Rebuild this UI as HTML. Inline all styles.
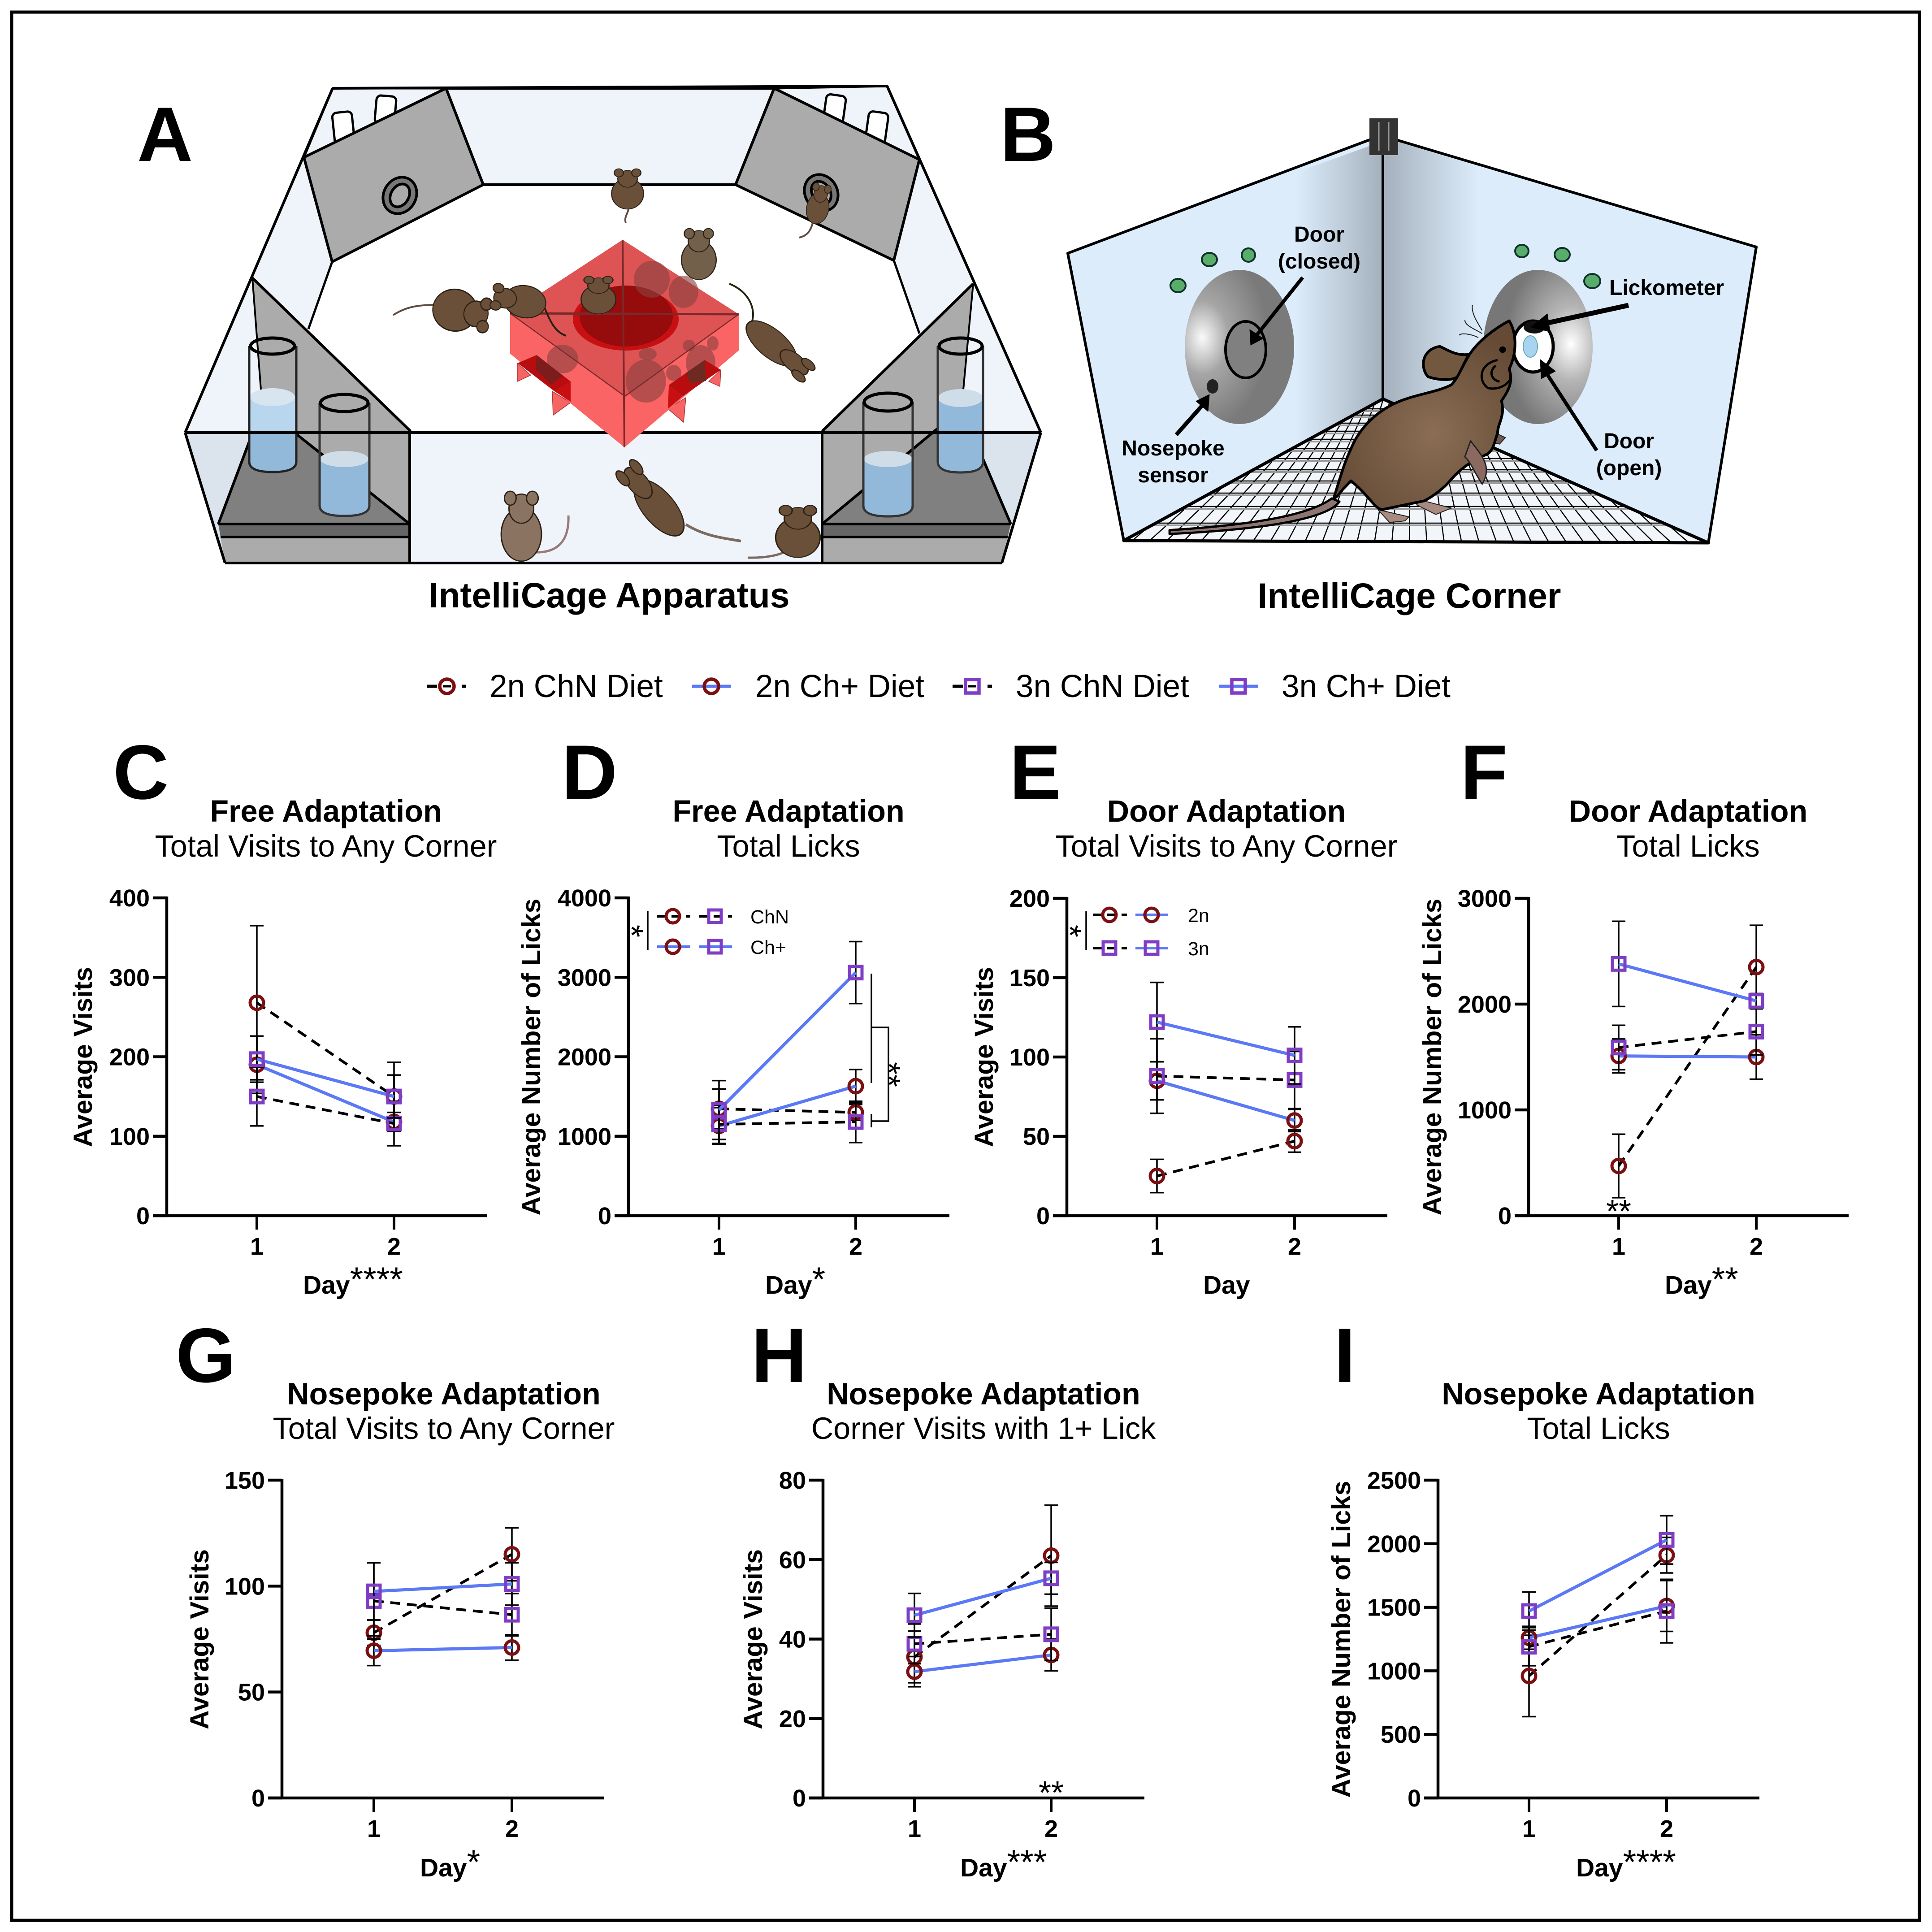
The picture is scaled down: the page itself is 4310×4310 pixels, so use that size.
<!DOCTYPE html>
<html lang="en">
<head>
<meta charset="utf-8">
<title>IntelliCage adaptation figure</title>
<style>
html,body{margin:0;padding:0;background:#fff;width:4310px;height:4310px;overflow:hidden}
svg{display:block}
text{font-family:"Liberation Sans",sans-serif;fill:#000}
.b{font-weight:bold}
.title{font-weight:bold;font-size:68.3px;text-anchor:middle}
.sub{font-size:68.4px;text-anchor:middle}
.letter{font-weight:bold;font-size:172px}
.ytitle{font-weight:bold;font-size:58.8px;text-anchor:middle}
.xtitle{font-weight:bold;font-size:57px}
.xtitle tspan{font-weight:normal;font-size:76px}
.leg{font-size:71px}
.ins{font-size:43px}
.lab{font-weight:bold;font-size:48px;text-anchor:middle}
.rat *{vector-effect:non-scaling-stroke}
</style>
</head>
<body>
<svg id="figure" xmlns="http://www.w3.org/2000/svg" width="4310" height="4310" viewBox="0 0 4310 4310">
<defs>
<linearGradient id="shadeL" x1="0" x2="1" y1="0" y2="0"><stop offset="0" stop-color="#a9b5c1" stop-opacity="0"/><stop offset="1" stop-color="#a3afbb"/></linearGradient>
<linearGradient id="shadeR" x1="0" x2="1" y1="0" y2="0"><stop offset="0" stop-color="#a3afbb"/><stop offset="1" stop-color="#a9b5c1" stop-opacity="0"/></linearGradient>
<radialGradient id="discL" cx="0.16" cy="0.44" r="0.6"><stop offset="0" stop-color="#fafafa"/><stop offset="0.4" stop-color="#a5a5a5"/><stop offset="1" stop-color="#7a7a7a"/></radialGradient>
<radialGradient id="discR" cx="0.8" cy="0.48" r="0.6"><stop offset="0" stop-color="#ffffff"/><stop offset="0.4" stop-color="#b5b5b5"/><stop offset="1" stop-color="#777777"/></radialGradient>
<radialGradient id="ratFill" cx="0.55" cy="0.6" r="0.6"><stop offset="0" stop-color="#8a6d54"/><stop offset="1" stop-color="#654b36"/></radialGradient>
<clipPath id="floorClip"><polygon points="2507,1206 3085,890 3811,1211"/></clipPath>
<g id="mouse-shape" stroke="#2b2015">
<ellipse cx="0" cy="0" rx="31" ry="46" stroke-width="2"/>
<ellipse cx="0" cy="-44" rx="19" ry="25" stroke-width="2"/>
<ellipse cx="-17" cy="-62" rx="9" ry="12" stroke-width="2"/>
<ellipse cx="17" cy="-62" rx="9" ry="12" stroke-width="2"/>
</g>
</defs>

<rect width="4310" height="4310" fill="#ffffff"/>
<rect x="26" y="27" width="4256" height="4257" fill="none" stroke="#000" stroke-width="7"/>

<!-- PANEL A -->
<g stroke-linejoin="round">
<polygon points="995,197 1727,197 1641,412 1078,412" fill="#eef4fa" stroke="#000" stroke-width="6"/>
<polygon points="742,197 995,197 678,351" fill="#eef4fa" stroke="#000" stroke-width="5"/>
<polygon points="1727,197 1979,192 2051,356" fill="#eef4fa" stroke="#000" stroke-width="5"/>
<g fill="#fff" stroke="#000" stroke-width="5">
<rect x="744" y="250" width="44" height="72" rx="10" transform="rotate(-6 766 286)"/>
<rect x="838" y="214" width="44" height="62" rx="10" transform="rotate(5 860 245)"/>
<rect x="1840" y="212" width="44" height="62" rx="10" transform="rotate(8 1862 243)"/>
<rect x="1934" y="250" width="44" height="72" rx="10" transform="rotate(8 1956 286)"/>
</g>
<polygon points="678,351 741,584 688,734 563,620" fill="#eef4fa"/>
<polygon points="2051,356 1994,581 2051,744 2171,633" fill="#eef4fa"/>
<polygon points="563,620 413,965 585,965 585,908" fill="#eef4fa"/>
<polygon points="2171,633 2322,965 2145,965 2145,912" fill="#eef4fa"/>
<polygon points="995,197 1078,412 741,584 678,351" fill="#ababab" stroke="#000" stroke-width="6"/>
<polygon points="1727,197 1641,412 1994,581 2051,356" fill="#ababab" stroke="#000" stroke-width="6"/>
<g transform="rotate(30 892 436)"><ellipse cx="892" cy="436" rx="36" ry="42" fill="#777" stroke="#000" stroke-width="6"/><ellipse cx="892" cy="436" rx="20" ry="27" fill="#ababab" stroke="#000" stroke-width="6"/></g>
<g transform="rotate(-30 1832 430)"><ellipse cx="1832" cy="430" rx="36" ry="42" fill="#777" stroke="#000" stroke-width="6"/><ellipse cx="1832" cy="430" rx="20" ry="27" fill="#ababab" stroke="#000" stroke-width="6"/></g>
<polyline points="742,197 413,965" fill="none" stroke="#000" stroke-width="6"/>
<polyline points="1979,192 2322,965" fill="none" stroke="#000" stroke-width="6"/>
<line x1="741" y1="584" x2="688" y2="734" stroke="#000" stroke-width="5"/>
<line x1="1994" y1="581" x2="2051" y2="744" stroke="#000" stroke-width="5"/>

<polygon points="914,965 1834,965 1834,1256 914,1256" fill="#eef4fa"/>
<polygon points="413,965 914,965 914,1256 502,1256" fill="#dbe3ec"/>
<polygon points="1834,965 2322,965 2235,1256 1834,1256" fill="#dbe3ec"/>

<polygon points="563,620 916,960 916,1169 585,908" fill="#ababab"/>
<polygon points="585,908 914,1169 487,1169" fill="#808080"/>
<polygon points="487,1169 914,1169 914,1198 492,1198" fill="#666"/>
<polygon points="492,1198 914,1198 914,1256 502,1256" fill="#ababab"/>
<polygon points="2171,633 1834,960 1834,1169 2145,912" fill="#ababab"/>
<polygon points="2145,912 1834,1169 2255,1169" fill="#808080"/>
<polygon points="1834,1169 2255,1169 2248,1198 1834,1198" fill="#666"/>
<polygon points="1834,1198 2248,1198 2235,1256 1834,1256" fill="#ababab"/>
<g fill="none" stroke="#000" stroke-width="6">
<line x1="563" y1="620" x2="916" y2="962"/>
<line x1="2171" y1="633" x2="1834" y2="962"/>
<line x1="563" y1="620" x2="585" y2="908" stroke-width="4"/>
<line x1="2171" y1="633" x2="2145" y2="912" stroke-width="4"/>
<line x1="585" y1="908" x2="914" y2="1169"/>
<line x1="585" y1="908" x2="487" y2="1169"/>
<line x1="2145" y1="912" x2="1834" y2="1169"/>
<line x1="2145" y1="912" x2="2255" y2="1169"/>
<line x1="487" y1="1169" x2="914" y2="1169"/>
<line x1="492" y1="1198" x2="914" y2="1198"/>
<line x1="1834" y1="1169" x2="2255" y2="1169"/>
<line x1="1834" y1="1198" x2="2248" y2="1198"/>
</g>
<g>
<rect x="556" y="886" width="105" height="79" fill="#b8d6ee"/>
<path d="M556,965 V1030 Q556,1053 608,1053 Q661,1053 661,1030 V965 Z" fill="#92b8da"/>
<ellipse cx="608" cy="886" rx="50" ry="20" fill="#d8e4ee"/>
<path d="M556,772 V1030 Q556,1053 608,1053 Q661,1053 661,1030 V772" fill="none" stroke="#222" stroke-width="5"/>
<ellipse cx="608" cy="772" rx="49" ry="18" fill="none" stroke="#000" stroke-width="7"/>
<path d="M713,1024 V1128 Q713,1151 768,1151 Q824,1151 824,1128 V1024 Z" fill="#92b8da"/>
<ellipse cx="768" cy="1024" rx="54" ry="18" fill="#cfdde8"/>
<path d="M713,899 V1128 Q713,1151 768,1151 Q824,1151 824,1128 V899" fill="none" stroke="#333" stroke-width="5"/>
<ellipse cx="768" cy="899" rx="53" ry="19" fill="none" stroke="#000" stroke-width="7"/>
<path d="M2092,888 V1030 Q2092,1054 2143,1054 Q2193,1054 2193,1030 V888 Z" fill="#92b8da"/>
<ellipse cx="2143" cy="888" rx="50" ry="20" fill="#cfdde8"/>
<path d="M2092,772 V1030 Q2092,1054 2143,1054 Q2193,1054 2193,1030 V772" fill="none" stroke="#333" stroke-width="5"/>
<ellipse cx="2143" cy="772" rx="48" ry="18" fill="none" stroke="#000" stroke-width="7"/>
<path d="M1926,1024 V1128 Q1926,1152 1981,1152 Q2036,1152 2036,1128 V1024 Z" fill="#92b8da"/>
<ellipse cx="1981" cy="1024" rx="54" ry="18" fill="#cfdde8"/>
<path d="M1926,897 V1128 Q1926,1152 1981,1152 Q2036,1152 2036,1128 V897" fill="none" stroke="#333" stroke-width="5"/>
<ellipse cx="1981" cy="897" rx="53" ry="20" fill="none" stroke="#000" stroke-width="7"/>
</g>
<g fill="none" stroke="#000" stroke-width="6">
<line x1="413" y1="965" x2="2322" y2="965"/>
<line x1="413" y1="965" x2="502" y2="1256"/>
<line x1="2322" y1="965" x2="2235" y2="1256"/>
<line x1="502" y1="1256" x2="2235" y2="1256"/>
<line x1="914" y1="965" x2="914" y2="1256"/>
<line x1="1834" y1="965" x2="1834" y2="1256"/>
</g>
<line x1="742" y1="197" x2="1979" y2="192" stroke="#000" stroke-width="6"/>

<g>
<g fill="#f76464" stroke="#a33" stroke-width="1.5">
<polygon points="1154,810 1154,851 1184,837"/>
<polygon points="1232,873 1234,926 1273,898"/>
<polygon points="1490,912 1530,887 1525,942"/>
<polygon points="1581,851 1608,825 1606,862"/>
</g>
<polygon points="1389,535 1648,701 1648,782 1393,998 1138,789 1138,699" fill="#fb6464"/>
<polygon points="1389,535 1648,701 1394,884 1138,699" fill="#de5353"/>
<ellipse cx="1396" cy="712" rx="118" ry="70" fill="#c80f12"/>
<ellipse cx="1397" cy="705" rx="104" ry="68" fill="#960b0b"/>
<g fill="#8a4040" fill-opacity=".62">
<ellipse cx="1454" cy="623" rx="40" ry="41"/>
<ellipse cx="1525" cy="651" rx="33" ry="36"/>
<ellipse cx="1255" cy="801" rx="35" ry="32"/>
<ellipse cx="1441" cy="850" rx="45" ry="48"/>
<ellipse cx="1445" cy="790" rx="20" ry="14"/>
<ellipse cx="1563" cy="809" rx="33" ry="39"/>
<ellipse cx="1537" cy="771" rx="14" ry="13"/>
<ellipse cx="1590" cy="766" rx="13" ry="16"/>
<ellipse cx="1503" cy="832" rx="17" ry="18"/>
</g>
<g>
<polygon points="1155,810 1197,792 1273,851 1237,873" fill="#b80c0f"/>
<polygon points="1197,792 1256,838 1230,858 1195,825" fill="#7d1c1c"/>
<polygon points="1237,873 1273,851 1273,896" fill="#c80f12"/>
<polygon points="1492,859 1572,803 1608,825 1523,884" fill="#b80c0f"/>
<polygon points="1530,832 1572,803 1575,850 1540,855" fill="#6e2a22"/>
<polygon points="1492,859 1523,884 1490,912" fill="#c80f12"/>
</g>
<g stroke="#7a2a2a" fill="none">
<line x1="1389" y1="535" x2="1393" y2="998" stroke-width="4"/>
<line x1="1138" y1="699" x2="1648" y2="701" stroke-width="5"/>
<line x1="1394" y1="884" x2="1648" y2="701" stroke-width="2.5"/>
<line x1="1394" y1="884" x2="1138" y2="699" stroke-width="2.5"/>
</g>
</g>
<g fill="none" stroke="#5e4c42" stroke-width="4">
<path d="M1400,450 C1410,470 1390,480 1396,497"/>
<path d="M1815,490 C1810,510 1805,525 1783,530"/>
<path d="M975,680 C930,680 905,685 877,703"/>
<path d="M1212,680 C1225,710 1235,740 1263,749" stroke="#221"/>
<path d="M1675,725 C1690,690 1670,650 1627,633" stroke="#221"/>
<path d="M1190,1232 C1250,1235 1270,1200 1268,1150" stroke="#9a7a78" stroke-width="5"/>
<path d="M1530,1170 C1570,1195 1610,1200 1653,1207" stroke="#7a6a60" stroke-width="6"/>
<path d="M1760,1222 C1750,1240 1700,1245 1668,1244" stroke="#7a6a60" stroke-width="5"/>
</g>
<g fill="#6a4f39">
<use href="#mouse-shape" transform="translate(1400,432) scale(1.15,.75)"/>
<use href="#mouse-shape" transform="translate(1824,465) rotate(12) scale(.8,.75)"/>
<use href="#mouse-shape" fill="#73604a" transform="translate(1559,580) scale(1.25,.95)"/>
<use href="#mouse-shape" transform="translate(1015,692) rotate(100) scale(1.5,1.08)"/>
<use href="#mouse-shape" transform="translate(1171,673) rotate(-80) scale(1.15,1.02)"/>
<use href="#mouse-shape" transform="translate(1335,668) scale(1.25,.7)"/>
<use href="#mouse-shape" transform="translate(1721,766) rotate(130) scale(1,1.5)"/>
<use href="#mouse-shape" fill="#8a7360" transform="translate(1163,1192) scale(1.45,1.3)"/>
<use href="#mouse-shape" transform="translate(1470,1133) rotate(-40) scale(1.15,1.65)"/>
<use href="#mouse-shape" transform="translate(1780,1199) scale(1.6,.97)"/>
</g>
</g>
<text class="b" x="1359" y="1355" font-size="78.6" text-anchor="middle">IntelliCage Apparatus</text>

<!-- PANEL B -->
<g stroke-linejoin="round">
<polygon points="2382,565 3055,312 3085,312 3085,890 2507,1206" fill="#dcecfb" stroke="#000" stroke-width="6"/>
<polygon points="3115,312 3918,551 3811,1211 3085,890 3085,312" fill="#dcecfb" stroke="#000" stroke-width="6"/>
<polygon points="2890,385 3085,315 3085,890 2890,1000" fill="url(#shadeL)"/>
<polygon points="3085,315 3115,315 3300,372 3300,985 3085,890" fill="url(#shadeR)"/>
<line x1="3085" y1="312" x2="3085" y2="890" stroke="#000" stroke-width="6"/>
<g>
<rect x="3055" y="264" width="64" height="82" fill="#333"/>
<line x1="3076" y1="272" x2="3076" y2="336" stroke="#999" stroke-width="3"/>
<line x1="3098" y1="272" x2="3098" y2="336" stroke="#999" stroke-width="3"/>
</g>
<ellipse cx="2765" cy="774" rx="122" ry="172" fill="url(#discL)"/>
<ellipse cx="3431" cy="774" rx="122" ry="172" fill="url(#discR)"/>
<ellipse cx="2779" cy="780" rx="45" ry="63" fill="#808080" stroke="#000" stroke-width="6"/>
<ellipse cx="3420" cy="773" rx="45" ry="57" fill="#ffffff" stroke="#000" stroke-width="7"/>
<ellipse cx="3414" cy="773" rx="16" ry="24" fill="#a8d4f2" stroke="#6aa" stroke-width="2"/>
<ellipse cx="3423" cy="730" rx="24" ry="14" fill="#111"/>
<g fill="#58ad6a" stroke="#10302a" stroke-width="4">
<ellipse cx="2628" cy="637" rx="17" ry="15"/>
<ellipse cx="2698" cy="579" rx="17" ry="15"/>
<ellipse cx="2785" cy="569" rx="15" ry="15"/>
<ellipse cx="3395" cy="560" rx="15" ry="14"/>
<ellipse cx="3485" cy="568" rx="17" ry="15"/>
<ellipse cx="3552" cy="627" rx="18" ry="16"/>
</g>
<ellipse cx="2705" cy="862" rx="13" ry="16" fill="#222"/>

<polygon points="2507,1206 3085,890 3811,1211" fill="#f2f6fb"/>
<g id="floorGrid" stroke="#000" stroke-width="2.5" clip-path="url(#floorClip)"></g>
<polyline points="3085,890 2507,1206 3811,1211 3085,890" fill="none" stroke="#000" stroke-width="7"/>

<g class="rat" transform="translate(2480,680) scale(.861,.357)">
<path d="M590,1230 C560,1330 420,1400 150,1432 L150,1408 C400,1370 520,1300 570,1210 Z" fill="#8d7572" stroke="#000" stroke-width="5"/>
<path d="M690,1280 L770,1325 L760,1350 L720,1360 Z" fill="#a88a80" stroke="#222" stroke-width="2"/>
<path d="M800,1220 L880,1270 L840,1310 L790,1250 Z" fill="#a88a80" stroke="#222" stroke-width="2"/>
<path d="M985,790 L1020,830 L1005,870 L985,860 Z" fill="#6f5a50" stroke="#222" stroke-width="2"/>
<path d="M850,260 C800,280 800,400 820,450 C860,480 900,470 900,430 L925,310 C890,320 870,280 850,260 Z" fill="#735840" stroke="#000" stroke-width="6"/>
<path d="M1030,100 C1050,180 1050,300 1030,400 C1040,480 1030,530 1010,600 C1020,700 1000,740 1000,800 C990,870 990,900 975,930 C960,950 920,980 880,1090 C860,1150 830,1200 810,1225 L700,1280 C680,1270 670,1200 620,1100 L600,1150 C590,1180 585,1200 575,1210 C590,1100 600,1000 620,900 C640,780 680,680 730,620 C780,560 840,550 880,500 C900,450 910,370 930,300 C950,230 990,150 1030,100 Z" fill="url(#ratFill)" stroke="#000" stroke-width="6"/>
<path d="M930,850 C950,920 990,1000 960,1120 C940,1050 930,980 915,950 Z" fill="#8a6a60" stroke="#222" stroke-width="3"/>
<path d="M1000,345 C950,370 950,480 975,520 C1000,535 1030,500 1035,450 M995,380 C975,420 985,470 1005,480" fill="none" stroke="#000" stroke-width="5"/>
<ellipse cx="1013" cy="280" rx="9" ry="20" fill="#000"/>
<path d="M960,180 C940,150 915,130 915,95 M960,160 C950,120 930,50 935,0 M950,205 C930,180 905,175 900,190" fill="none" stroke="#222" stroke-width="2"/>
</g>
<g stroke="#000" fill="#000">
<line x1="2906" y1="619" x2="2800" y2="752" stroke-width="8"/><polygon points="2790,770 2788,735 2818,755"/>
<line x1="2624" y1="970" x2="2686" y2="900" stroke-width="9"/><polygon points="2698,880 2695,918 2668,895"/>
<line x1="3562" y1="1005" x2="3445" y2="825" stroke-width="8"/><polygon points="3436,802 3470,828 3438,845"/>
<line x1="3633" y1="681" x2="3445" y2="722" stroke-width="11"/><polygon points="3415,730 3452,700 3458,740"/>
</g>
<text class="lab" x="2943" y="539">Door</text>
<text class="lab" x="2943" y="599">(closed)</text>
<text class="b" font-size="48" x="3590" y="658">Lickometer</text>
<text class="lab" x="3634" y="1000">Door</text>
<text class="lab" x="3634" y="1060">(open)</text>
<text class="lab" x="2617" y="1016">Nosepoke</text>
<text class="lab" x="2617" y="1076">sensor</text>
</g>
<text class="b" x="3144" y="1356" font-size="78.6" text-anchor="middle">IntelliCage Corner</text>

<!-- PANEL LETTERS -->
<text class="letter" x="306" y="359">A</text>
<text class="letter" x="2231" y="359">B</text>
<text class="letter" x="252" y="1782">C</text>
<text class="letter" x="1253" y="1782">D</text>
<text class="letter" x="2252" y="1782">E</text>
<text class="letter" x="3258" y="1782">F</text>
<text class="letter" x="392" y="3083">G</text>
<text class="letter" x="1676" y="3083">H</text>
<text class="letter" x="2976" y="3083">I</text>

<!-- SHARED LEGEND -->
<g>
<g>
<line x1="952" y1="1531" x2="975" y2="1531" stroke="#000" stroke-width="7"/><line x1="1030" y1="1531" x2="1040" y2="1531" stroke="#000" stroke-width="7"/>
<circle cx="997" cy="1531" r="16" fill="none" stroke="#7b0f12" stroke-width="7.5"/><line x1="988" y1="1531" x2="1006" y2="1531" stroke="#000" stroke-width="5"/>
<text class="leg" x="1092" y="1555">2n ChN Diet</text>
</g>
<g>
<line x1="1544" y1="1531" x2="1631" y2="1531" stroke="#5b78f5" stroke-width="7"/>
<circle cx="1587" cy="1531" r="16" fill="none" stroke="#7b0f12" stroke-width="7.5"/>
<text class="leg" x="1685" y="1555">2n Ch+ Diet</text>
</g>
<g>
<line x1="2125" y1="1531" x2="2148" y2="1531" stroke="#000" stroke-width="7"/><line x1="2203" y1="1531" x2="2213" y2="1531" stroke="#000" stroke-width="7"/>
<rect x="2154" y="1516" width="30" height="30" fill="none" stroke="#7f3dc6" stroke-width="7.5"/><line x1="2160" y1="1531" x2="2178" y2="1531" stroke="#000" stroke-width="5"/>
<text class="leg" x="2266" y="1555">3n ChN Diet</text>
</g>
<g>
<line x1="2720" y1="1531" x2="2807" y2="1531" stroke="#5b78f5" stroke-width="7"/>
<rect x="2748" y="1516" width="30" height="30" fill="none" stroke="#7f3dc6" stroke-width="7.5"/>
<text class="leg" x="2859" y="1555">3n Ch+ Diet</text>
</g>
</g>

<!-- CHART TITLES -->
<text class="title" x="727" y="1833">Free Adaptation</text>
<text class="sub" x="727" y="1911">Total Visits to Any Corner</text>
<text class="title" x="1759" y="1833">Free Adaptation</text>
<text class="sub" x="1759" y="1911">Total Licks</text>
<text class="title" x="2736" y="1833">Door Adaptation</text>
<text class="sub" x="2736" y="1911">Total Visits to Any Corner</text>
<text class="title" x="3766" y="1833">Door Adaptation</text>
<text class="sub" x="3766" y="1911">Total Licks</text>
<text class="title" x="990" y="3133">Nosepoke Adaptation</text>
<text class="sub" x="990" y="3210">Total Visits to Any Corner</text>
<text class="title" x="2194" y="3133">Nosepoke Adaptation</text>
<text class="sub" x="2194" y="3210">Corner Visits with 1+ Lick</text>
<text class="title" x="3566" y="3133">Nosepoke Adaptation</text>
<text class="sub" x="3566" y="3210">Total Licks</text>

<!-- AXIS TITLES -->
<text class="ytitle" transform="translate(205,2358) rotate(-90)">Average Visits</text>
<text class="ytitle" transform="translate(1205,2358) rotate(-90)">Average Number of Licks</text>
<text class="ytitle" transform="translate(2215,2358) rotate(-90)">Average Visits</text>
<text class="ytitle" transform="translate(3215,2358) rotate(-90)">Average Number of Licks</text>
<text class="ytitle" transform="translate(465,3657) rotate(-90)">Average Visits</text>
<text class="ytitle" transform="translate(1700,3657) rotate(-90)">Average Visits</text>
<text class="ytitle" transform="translate(3012,3657) rotate(-90)">Average Number of Licks</text>
<text class="xtitle" x="676" y="2886">Day<tspan dy="-6">****</tspan></text>
<text class="xtitle" x="1707" y="2886">Day<tspan dy="-6">*</tspan></text>
<text class="xtitle" x="2684" y="2886">Day</text>
<text class="xtitle" x="3714" y="2886">Day<tspan dy="-6">**</tspan></text>
<text class="xtitle" x="937" y="4186">Day<tspan dy="-6">*</tspan></text>
<text class="xtitle" x="2142" y="4186">Day<tspan dy="-6">***</tspan></text>
<text class="xtitle" x="3516" y="4186">Day<tspan dy="-6">****</tspan></text>

<g id="charts"></g>

<!-- INSET LEGENDS AND SIGNIFICANCE -->
<g>
<line x1="1445" y1="2032" x2="1445" y2="2120" stroke="#000" stroke-width="3.5"/>
<text font-size="72" text-anchor="middle" transform="translate(1384,2077) rotate(90)">*</text>
<line x1="1466" y1="2044" x2="1540" y2="2044" stroke="#000" stroke-width="6" stroke-dasharray="20 12"/>
<line x1="1560" y1="2044" x2="1633" y2="2044" stroke="#000" stroke-width="6" stroke-dasharray="20 12"/>
<circle cx="1501" cy="2044" r="15" fill="none" stroke="#7b0f12" stroke-width="7"/>
<rect x="1581" y="2030" width="28" height="28" fill="none" stroke="#7f3dc6" stroke-width="7"/>
<text class="ins" x="1674" y="2060">ChN</text>
<line x1="1466" y1="2112" x2="1540" y2="2112" stroke="#5b78f5" stroke-width="6"/>
<line x1="1560" y1="2112" x2="1633" y2="2112" stroke="#5b78f5" stroke-width="6"/>
<circle cx="1501" cy="2112" r="15" fill="none" stroke="#7b0f12" stroke-width="7"/>
<rect x="1581" y="2098" width="28" height="28" fill="none" stroke="#7f3dc6" stroke-width="7"/>
<text class="ins" x="1674" y="2128">Ch+</text>
</g>
<g>
<path d="M1944,2172 V2416 M1944,2485 V2515 M1944,2292 H1982 V2501 H1944" fill="none" stroke="#000" stroke-width="3.5"/>
<text font-size="72" text-anchor="middle" transform="translate(1958,2397) rotate(90)">**</text>
</g>
<g>
<line x1="2423" y1="2033" x2="2423" y2="2120" stroke="#000" stroke-width="3.5"/>
<text font-size="72" text-anchor="middle" transform="translate(2362,2077) rotate(90)">*</text>
<line x1="2438" y1="2041" x2="2514" y2="2041" stroke="#000" stroke-width="6" stroke-dasharray="20 12"/>
<line x1="2533" y1="2041" x2="2605" y2="2041" stroke="#5b78f5" stroke-width="6"/>
<circle cx="2475" cy="2041" r="15" fill="none" stroke="#7b0f12" stroke-width="7"/>
<circle cx="2569" cy="2041" r="15" fill="none" stroke="#7b0f12" stroke-width="7"/>
<text class="ins" x="2650" y="2057">2n</text>
<line x1="2438" y1="2115" x2="2514" y2="2115" stroke="#000" stroke-width="6" stroke-dasharray="20 12"/>
<line x1="2533" y1="2115" x2="2605" y2="2115" stroke="#5b78f5" stroke-width="6"/>
<rect x="2461" y="2101" width="28" height="28" fill="none" stroke="#7f3dc6" stroke-width="7"/>
<rect x="2555" y="2101" width="28" height="28" fill="none" stroke="#7f3dc6" stroke-width="7"/>
<text class="ins" x="2650" y="2131">3n</text>
</g>
<text font-size="72" text-anchor="middle" x="3611" y="2727">**</text>
<text font-size="72" text-anchor="middle" x="2345" y="4024">**</text>
</svg>

<script>
// Shared x categories
const days = [1, 2];

// Panel C
const cTicks = [0, 100, 200, 300, 400];
const c2nChN = [268, 150];
const c2nChNErr = [97, 43];
const c2nChP = [190, 118];
const c2nChPErr = [36, 12];
const c3nChN = [150, 116];
const c3nChNErr = [37, 28];
const c3nChP = [197, 150];
const c3nChPErr = [29, 27];

// Panel D
const dTicks = [0, 1000, 2000, 3000, 4000];
const d2nChN = [1345, 1300];
const d2nChNErr = [250, 100];
const d2nChP = [1130, 1630];
const d2nChPErr = [230, 210];
const d3nChN = [1150, 1180];
const d3nChNErr = [240, 260];
const d3nChP = [1330, 3060];
const d3nChPErr = [370, 390];

// Panel E
const eTicks = [0, 50, 100, 150, 200];
const e2nChN = [25, 47];
const e2nChNErr = [10.5, 7];
const e2nChP = [85, 60];
const e2nChPErr = [12, 7];
const e3nChN = [88, 85.5];
const e3nChNErr = [23.5, 18];
const e3nChP = [122, 101];
const e3nChPErr = [25, 18];

// Panel F
const fTicks = [0, 1000, 2000, 3000];
const f2nChN = [470, 2350];
const f2nChNErr = [300, 395];
const f2nChP = [1510, 1500];
const f2nChPErr = [160, 210];
const f3nChN = [1590, 1740];
const f3nChNErr = [210, 220];
const f3nChP = [2380, 2030];
const f3nChPErr = [403, 70];

// Panel G
const gTicks = [0, 50, 100, 150];
const g2nChN = [78, 115];
const g2nChNErr = [6, 12.5];
const g2nChP = [69.5, 71];
const g2nChPErr = [7, 6];
const g3nChN = [93, 86.5];
const g3nChNErr = [18, 10];
const g3nChP = [97.5, 101];
const g3nChPErr = [13.5, 10];

// Panel H
const hTicks = [0, 20, 40, 60, 80];
const h2nChN = [35.5, 61];
const h2nChNErr = [6.5, 12.7];
const h2nChP = [31.8, 36];
const h2nChPErr = [3.8, 4];
const h3nChN = [38.8, 41.2];
const h3nChNErr = [5, 6.6];
const h3nChP = [46, 55.3];
const h3nChPErr = [5.5, 4];

// Panel I
const iTicks = [0, 500, 1000, 1500, 2000, 2500];
const i2nChN = [960, 1910];
const i2nChNErr = [320, 140];
const i2nChP = [1260, 1510];
const i2nChPErr = [90, 200];
const i3nChN = [1190, 1470];
const i3nChNErr = [150, 250];
const i3nChP = [1470, 2030];
const i3nChPErr = [150, 190];

const NS = 'http://www.w3.org/2000/svg';
const RED = '#7b0f12';
const PURPLE = '#7f3dc6';
const BLUE = '#5b78f5';

function make(tag, attrs, parent) {
  const el = document.createElementNS(NS, tag);
  for (const k in attrs) el.setAttribute(k, attrs[k]);
  parent.appendChild(el);
  return el;
}

function drawSeries(g, s, x, y, id) {
  const sg = make('g', {}, g);
  
  
  days.forEach(function (d, i) {
    const px = x(d);
    const top = y(s.vals[i] + s.errs[i]);
    const bot = y(s.vals[i] - s.errs[i]);
    const eb = make('path', {
      d: 'M' + (px - 15) + ',' + top + 'H' + (px + 15) + 'M' + px + ',' + top + 'V' + bot + 'M' + (px - 15) + ',' + bot + 'H' + (px + 15),
      fill: 'none', stroke: '#000', 'stroke-width': 3.5
    }, sg);
    
    
  });
  const ln = make('line', {
    x1: x(days[0]), y1: y(s.vals[0]), x2: x(days[1]), y2: y(s.vals[1]),
    stroke: s.solid ? BLUE : '#000', 'stroke-width': s.solid ? 7 : 6,
    'stroke-dasharray': s.solid ? 'none' : '22 15'
  }, sg);
  
  
  days.forEach(function (d, i) {
    const px = x(d);
    const py = y(s.vals[i]);
    let mk;
    if (s.circle) {
      mk = make('ellipse', { cx: px, cy: py, rx: 15, ry: 15, fill: 'none', stroke: RED, 'stroke-width': 7 }, sg);
    } else {
      mk = make('rect', { x: px - 14, y: py - 14, width: 28, height: 28, fill: 'none', stroke: PURPLE, 'stroke-width': 7 }, sg);
    }
    
    
  });
}

function drawChart(p) {
  const root = document.getElementById('charts');
  const g = make('g', {}, root);
  
  
  const yMax = p.ticks[p.ticks.length - 1];
  const y = function (v) { return p.y0 - (v / yMax) * (p.y0 - p.yTop); };
  const x = function (d) { return p.x1 + (d - days[0]) * (p.x2 - p.x1) / (days[1] - days[0]); };

  const yAxis = make('line', { x1: p.ax, y1: p.y0 + 3, x2: p.ax, y2: p.yTop - 3, stroke: '#000', 'stroke-width': 6.5 }, g);
  
  
  const xAxis = make('line', { x1: p.ax - 31, y1: p.y0, x2: p.xEnd, y2: p.y0, stroke: '#000', 'stroke-width': 6.5 }, g);
  
  

  p.ticks.forEach(function (t) {
    const tk = make('line', { x1: p.ax - 31, y1: y(t), x2: p.ax, y2: y(t), stroke: '#000', 'stroke-width': 6.5 }, g);
    
    
    const lb = make('text', { x: p.ax - 38, y: y(t) + 19, 'font-size': 54, 'font-weight': 'bold', 'text-anchor': 'end' }, g);
    lb.textContent = t;
    
    
  });
  days.forEach(function (d) {
    const tk = make('line', { x1: x(d), y1: p.y0, x2: x(d), y2: p.y0 + 31, stroke: '#000', 'stroke-width': 6 }, g);
    
    
    const lb = make('text', { x: x(d), y: p.y0 + 87, 'font-size': 54, 'font-weight': 'bold', 'text-anchor': 'middle' }, g);
    lb.textContent = d;
    
    
  });
  p.series.forEach(function (s) { drawSeries(g, s, x, y, p.id); });
}

function seriesOf(a, aE, b, bE, c, cE, dd, dE) {
  return [
    { name: '2n-chn', vals: a, errs: aE, circle: true, solid: false },
    { name: '2n-chplus', vals: b, errs: bE, circle: true, solid: true },
    { name: '3n-chn', vals: c, errs: cE, circle: false, solid: false },
    { name: '3n-chplus', vals: dd, errs: dE, circle: false, solid: true }
  ];
}

drawChart({ id: 'chart-c', ticks: cTicks, ax: 372, y0: 2712, yTop: 2003, x1: 573, x2: 879, xEnd: 1087,
  series: seriesOf(c2nChN, c2nChNErr, c2nChP, c2nChPErr, c3nChN, c3nChNErr, c3nChP, c3nChPErr) });
drawChart({ id: 'chart-d', ticks: dTicks, ax: 1402, y0: 2712, yTop: 2003, x1: 1604, x2: 1909, xEnd: 2118,
  series: seriesOf(d2nChN, d2nChNErr, d2nChP, d2nChPErr, d3nChN, d3nChNErr, d3nChP, d3nChPErr) });
drawChart({ id: 'chart-e', ticks: eTicks, ax: 2380, y0: 2712, yTop: 2004, x1: 2581, x2: 2888, xEnd: 3095,
  series: seriesOf(e2nChN, e2nChNErr, e2nChP, e2nChPErr, e3nChN, e3nChNErr, e3nChP, e3nChPErr) });
drawChart({ id: 'chart-f', ticks: fTicks, ax: 3410, y0: 2712, yTop: 2004, x1: 3611, x2: 3918, xEnd: 4124,
  series: seriesOf(f2nChN, f2nChNErr, f2nChP, f2nChPErr, f3nChN, f3nChNErr, f3nChP, f3nChPErr) });
drawChart({ id: 'chart-g', ticks: gTicks, ax: 629, y0: 4011, yTop: 3302, x1: 834, x2: 1142, xEnd: 1347,
  series: seriesOf(g2nChN, g2nChNErr, g2nChP, g2nChPErr, g3nChN, g3nChNErr, g3nChP, g3nChPErr) });
drawChart({ id: 'chart-h', ticks: hTicks, ax: 1836, y0: 4011, yTop: 3302, x1: 2040, x2: 2345, xEnd: 2553,
  series: seriesOf(h2nChN, h2nChNErr, h2nChP, h2nChPErr, h3nChN, h3nChNErr, h3nChP, h3nChPErr) });
drawChart({ id: 'chart-i', ticks: iTicks, ax: 3208, y0: 4011, yTop: 3302, x1: 3411, x2: 3718, xEnd: 3925,
  series: seriesOf(i2nChN, i2nChNErr, i2nChP, i2nChPErr, i3nChN, i3nChNErr, i3nChP, i3nChPErr) });

// Illustration: wire floor grid of panel B
(function () {
  const grid = document.getElementById('floorGrid');
  const vanish = [3150, 680];
  for (let bx = 2520; bx < 3811; bx += 39) {
    make('line', { x1: vanish[0], y1: vanish[1], x2: bx, y2: 1211 }, grid);
  }
  const rows = [912, 926, 944, 962, 980, 1001, 1023, 1048, 1073, 1100, 1130, 1167];
  rows.forEach(function (ry) {
    make('line', { x1: 2500, y1: ry, x2: 3820, y2: ry }, grid);
    make('line', { x1: 2500, y1: ry + 5, x2: 3820, y2: ry + 5, stroke: '#9a9a9a', 'stroke-width': 4 }, grid);
  });
})();
</script>
</body>
</html>
